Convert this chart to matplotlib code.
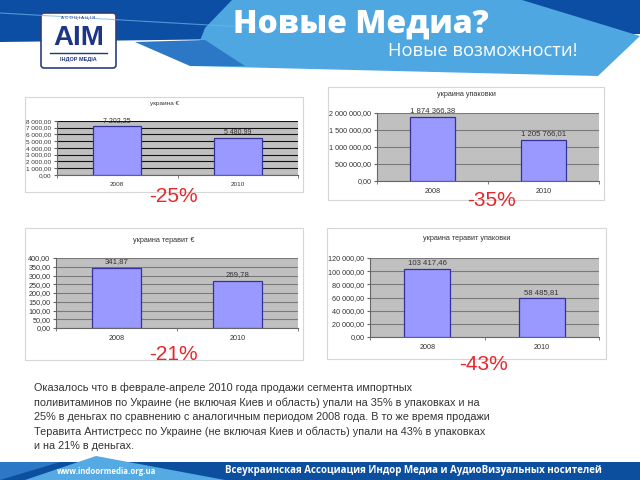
import matplotlib
matplotlib.use("Agg")
import matplotlib.pyplot as plt
from matplotlib.patches import Polygon, Rectangle, FancyBboxPatch
from matplotlib.ticker import FuncFormatter, FixedLocator

plt.rcParams['font.family'] = ['Liberation Sans', 'DejaVu Sans']

years = ['2008', '2010']
ukr_euro = [7202.25, 5480.99]
ukr_packs = [1874366.38, 1205766.01]
terav_euro = [341.87, 269.78]
terav_packs = [103417.46, 58485.81]

titles = ['украина €', 'украина упаковки', 'украина теравит €', 'украина теравит упаковки']
changes = ['-25%', '-35%', '-21%', '-43%']

text_lines = [
    'Оказалось что в феврале-апреле 2010 года продажи сегмента импортных',
    'поливитаминов по Украине (не включая Киев и область) упали на 35% в упаковках и на',
    '25% в деньгах по сравнению с аналогичным периодом 2008 года. В то же время продажи',
    'Теравита Антистресс по Украине (не включая Киев и область) упали на 43% в упаковках',
    'и на 21% в деньгах.',
]

W, H = 640, 480
fig = plt.figure(figsize=(6.4, 4.8), dpi=100)
bg = fig.add_axes([0, 0, 1, 1])
bg.set_xlim(0, W)
bg.set_ylim(H, 0)
bg.axis('off')

dark = '#0c4ea3'
mid = '#2c78c6'
light = '#4ea7e0'

# header
bg.add_patch(Polygon([(0, 0), (640, 0), (640, 34), (0, 42)], color=dark, lw=0))
bg.add_patch(Polygon([(232, 0), (522, 0), (640, 36), (598, 76), (190, 66), (205, 28)], color=light, lw=0))
bg.add_patch(Polygon([(135, 42), (205, 40), (245, 66), (190, 66)], color=mid, lw=0))
bg.plot([0, 330], [13, 32], color='#6fb4ea', lw=0.8, alpha=0.7)

# logo
bg.add_patch(FancyBboxPatch((41, 13), 75, 55, boxstyle='round,pad=0,rounding_size=3',
                            fc='white', ec='#2d3f7a', lw=1.2))
bg.text(78.5, 18.5, 'А С О Ц І А Ц І Я', ha='center', va='center', fontsize=3.2, color='#1d3585')
bg.text(78.5, 38, 'AIM', ha='center', va='center', fontsize=20, color='#1d3585',
        fontweight='bold')
bg.plot([50, 107], [53, 53], color='#1d3585', lw=1)
bg.text(78.5, 59.5, 'ІНДОР МЕДІА', ha='center', va='center', fontsize=4, color='#1d3585',
        fontweight='bold')

bg.text(233, 25, 'Новые Медиа?', ha='left', va='center', fontsize=23, color='white',
        fontweight='heavy', family=['Open Sans', 'DejaVu Sans'])
bg.text(578, 51, 'Новые возможности!', ha='right', va='center', fontsize=13.2, color='white',
        family=['Open Sans', 'DejaVu Sans'])

# footer
bg.add_patch(Rectangle((0, 462), 640, 18, color='#0d4f9f', lw=0))
bg.add_patch(Polygon([(0, 462), (60, 462), (0, 480)], color='#2c78c6', lw=0))
bg.add_patch(Polygon([(25, 480), (96, 456), (225, 480)], color='#55aae3', lw=0))
bg.text(57, 471, 'www.indoormedia.org.ua', ha='left', va='center', fontsize=5.6,
        color='white', fontweight='bold', family=['Open Sans', 'DejaVu Sans'])
bg.text(225, 471, 'Всеукраинская Ассоциация Индор Медиа и АудиоВизуальных носителей',
        ha='left', va='center', fontsize=7.0, color='white', fontweight='bold',
        family=['Open Sans', 'DejaVu Sans'])

# paragraph
for i, line in enumerate(text_lines):
    bg.text(34, 388 + 14.6 * i, line, ha='left', va='center', fontsize=7.8, color='#333333')

# chart boxes
boxes = [(25, 97, 278, 95), (328, 87, 276, 113), (25, 228, 278, 132), (327, 228, 279, 131)]


def fmt(v, pos=None):
    s = f'{v:,.2f}'
    return s.replace(',', ' ').replace('.', ',')


def chart(rect, box, values, ymax, step, title, change, title_y, change_xy, fs, grid_col):
    bx, by, bw, bh = box
    bg.add_patch(Rectangle((bx, by), bw, bh, fc='white', ec='#d6d6d6', lw=0.8))
    left, top, right, bottom = rect
    ax = fig.add_axes([left / W, 1 - bottom / H, (right - left) / W, (bottom - top) / H])
    ax.set_facecolor('#c0c0c0')
    ax.bar(range(len(years)), values, width=0.4, color='#9999ff', edgecolor='#333399',
           lw=0.9, zorder=3)
    ax.set_xlim(-0.5, 1.5)
    ax.set_ylim(0, ymax)
    ticks = [step * k for k in range(int(round(ymax / step)) + 1)]
    ax.yaxis.set_major_locator(FixedLocator(ticks))
    ax.yaxis.set_major_formatter(FuncFormatter(fmt))
    ax.yaxis.grid(True, color=grid_col, lw=0.8, zorder=1)
    ax.set_axisbelow(True)
    ax.set_xticks(range(len(years)))
    ax.set_xticklabels(years)
    ax.xaxis.set_minor_locator(FixedLocator([-0.5, 0.5, 1.5]))
    ax.tick_params(axis='x', which='major', length=0, pad=5, labelsize=fs, labelcolor='#333333')
    ax.tick_params(axis='x', which='minor', length=2.5, color='#666666')
    ax.tick_params(axis='y', length=2.5, labelsize=fs, labelcolor='#333333', color='#666666', pad=1.5)
    for s in ['top', 'right']:
        ax.spines[s].set_visible(False)
    for s in ['left', 'bottom']:
        ax.spines[s].set_color('#666666')
        ax.spines[s].set_linewidth(0.8)
    for i, v in enumerate(values):
        ax.annotate(fmt(v), (i, v), xytext=(0, 2), textcoords='offset points',
                    ha='center', va='bottom', fontsize=fs + 0.4, color='#333333')
    bg.text(bx + bw / 2, title_y, title, ha='center', va='center',
            fontsize=fs, color='#333333')
    bg.text(change_xy[0], change_xy[1], change, ha='center', va='center',
            fontsize=15, color='#e8262b')
    return ax


chart((57, 121, 298, 175), boxes[0], ukr_euro, 8000, 1000, titles[0], changes[0], 103, (173, 196), 4.6, '#111111')
chart((377, 113, 599, 181), boxes[1], ukr_packs, 2000000, 500000, titles[1], changes[1], 95, (492, 200), 5.2, '#7a7a7a')
chart((56, 258, 298, 328), boxes[2], terav_euro, 400, 50, titles[2], changes[2], 240, (173, 355), 5.2, '#7a7a7a')
chart((370, 258, 599, 337), boxes[3], terav_packs, 120000, 20000, titles[3], changes[3], 238, (483, 365), 5.2, '#7a7a7a')

fig.savefig('out.png', dpi=100)
